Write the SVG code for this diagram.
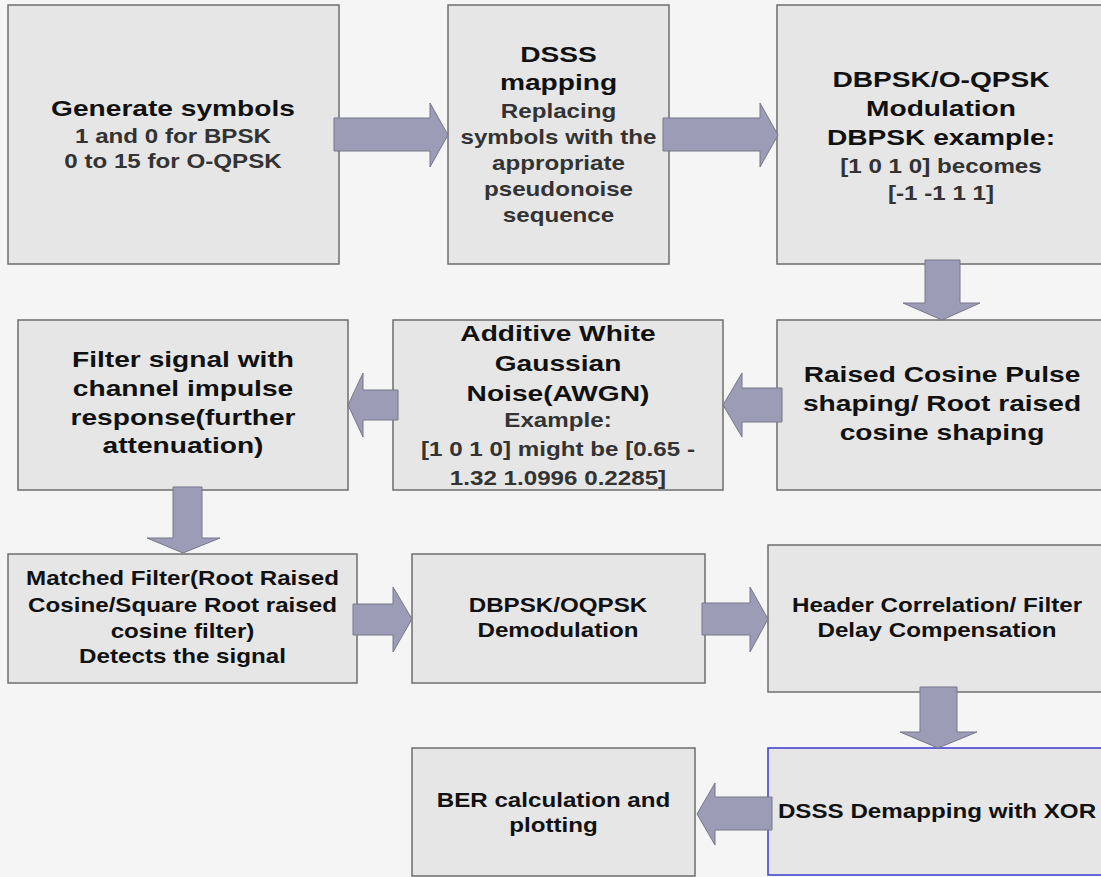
<svg xmlns="http://www.w3.org/2000/svg" width="1101" height="877" viewBox="0 0 1101 877">
<style>
.box{fill:#e6e6e6;stroke:#6e6e6e;stroke-width:1.5}
.blue{fill:#e6e6e6;stroke:#3a3ad0;stroke-width:1.5}
.arr{fill:#9d9cb6;stroke:#77778a;stroke-width:1}
text{font-family:"Liberation Sans",Arial,sans-serif;font-weight:bold;text-anchor:middle}
.t{font-size:22.7px;fill:#111}
.s{font-size:19.5px;fill:#333}
.b{font-size:19.5px;fill:#111}
</style>
<rect width="1101" height="877" fill="#f5f5f5"/>
<g id="n1">
<rect class="box" x="8" y="5" width="331" height="259"/>
<g transform="translate(173,0) scale(1.24,1)">
<text class="t" x="0" y="116">Generate symbols</text>
<text class="s" x="0" y="143">1 and 0 for BPSK</text>
<text class="s" x="0" y="168">0 to 15 for O-QPSK</text>
</g>
</g>
<g id="n2">
<rect class="box" x="448" y="5" width="221" height="259"/>
<g transform="translate(558.5,0) scale(1.24,1)">
<text class="t" x="0" y="62">DSSS</text>
<text class="t" x="0" y="90">mapping</text>
<text class="s" x="0" y="118">Replacing</text>
<text class="s" x="0" y="144">symbols with the</text>
<text class="s" x="0" y="170">appropriate</text>
<text class="s" x="0" y="196">pseudonoise</text>
<text class="s" x="0" y="222">sequence</text>
</g>
</g>
<g id="n3">
<rect class="box" x="777" y="5" width="328" height="259"/>
<g transform="translate(941,0) scale(1.24,1)">
<text class="t" x="0" y="87">DBPSK/O-QPSK</text>
<text class="t" x="0" y="116">Modulation</text>
<text class="t" x="0" y="145">DBPSK example:</text>
<text class="s" x="0" y="173">[1 0 1 0] becomes</text>
<text class="s" x="0" y="200">[-1 -1 1 1]</text>
</g>
</g>
<g id="n4">
<rect class="box" x="18" y="320" width="330" height="170"/>
<g transform="translate(183,0) scale(1.24,1)">
<text class="t" x="0" y="367">Filter signal with</text>
<text class="t" x="0" y="396">channel impulse</text>
<text class="t" x="0" y="425">response(further</text>
<text class="t" x="0" y="453">attenuation)</text>
</g>
</g>
<g id="n5">
<rect class="box" x="393" y="320" width="330" height="170"/>
<g transform="translate(558,0) scale(1.24,1)">
<text class="t" x="0" y="341">Additive White</text>
<text class="t" x="0" y="371">Gaussian</text>
<text class="t" x="0" y="401">Noise(AWGN)</text>
<text class="s" x="0" y="427">Example:</text>
<text class="s" x="0" y="456">[1 0 1 0] might be [0.65 -</text>
<text class="s" x="0" y="485">1.32 1.0996 0.2285]</text>
</g>
</g>
<g id="n6">
<rect class="box" x="777" y="320" width="328" height="170"/>
<g transform="translate(942,0) scale(1.24,1)">
<text class="t" x="0" y="382">Raised Cosine Pulse</text>
<text class="t" x="0" y="411">shaping/ Root raised</text>
<text class="t" x="0" y="440">cosine shaping</text>
</g>
</g>
<g id="n7">
<rect class="box" x="8" y="554" width="349" height="129"/>
<g transform="translate(182.5,0) scale(1.24,1)">
<text class="b" x="0" y="585">Matched Filter(Root Raised</text>
<text class="b" x="0" y="612">Cosine/Square Root raised</text>
<text class="b" x="0" y="638">cosine filter)</text>
<text class="b" x="0" y="663">Detects the signal</text>
</g>
</g>
<g id="n8">
<rect class="box" x="412" y="554" width="293" height="129"/>
<g transform="translate(558,0) scale(1.24,1)">
<text class="b" x="0" y="612">DBPSK/OQPSK</text>
<text class="b" x="0" y="637">Demodulation</text>
</g>
</g>
<g id="n9">
<rect class="box" x="768" y="545" width="338" height="147"/>
<g transform="translate(937,0) scale(1.24,1)">
<text class="b" x="0" y="612">Header Correlation/ Filter</text>
<text class="b" x="0" y="637">Delay Compensation</text>
</g>
</g>
<g id="n10">
<rect class="blue" x="768" y="748" width="338" height="127"/>
<g transform="translate(937,0) scale(1.24,1)">
<text class="b" x="0" y="818">DSSS Demapping with XOR</text>
</g>
</g>
<g id="n11">
<rect class="box" x="412" y="748" width="283" height="128"/>
<g transform="translate(553.5,0) scale(1.24,1)">
<text class="b" x="0" y="807">BER calculation and</text>
<text class="b" x="0" y="832">plotting</text>
</g>
</g>
<g id="connectors">
<polygon class="arr" points="334,118 430,118 430,103 448,135 430,167 430,151 334,151"/>
<polygon class="arr" points="663,118 760,118 760,103 778,135 760,167 760,151 663,151"/>
<polygon class="arr" points="925,260 960,260 960,303 980,303 942,320 903,303 925,303"/>
<polygon class="arr" points="782,388 742,388 742,373 723,405 742,437 742,422 782,422"/>
<polygon class="arr" points="398,390 363,390 363,373 348,405 363,437 363,420 398,420"/>
<polygon class="arr" points="173,487 202,487 202,538 220,538 183,553 147,538 173,538"/>
<polygon class="arr" points="353,604 393,604 393,587 412,619 393,652 393,635 353,635"/>
<polygon class="arr" points="702,603 750,603 750,587 768,619 750,652 750,635 702,635"/>
<polygon class="arr" points="920,687 957,687 957,732 977,732 938,748 900,732 920,732"/>
<polygon class="arr" points="772,797 715,797 715,783 697,814 715,845 715,830 772,830"/>
</g>
</svg>
